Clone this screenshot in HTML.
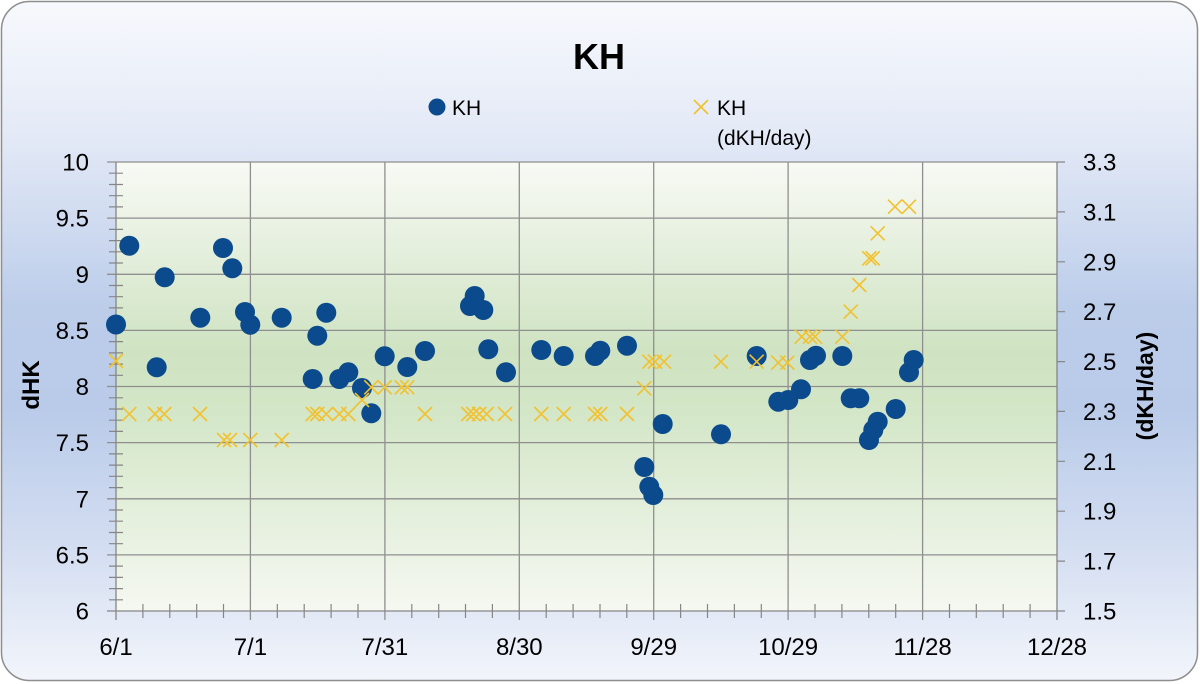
<!DOCTYPE html>
<html>
<head>
<meta charset="utf-8">
<style>
html,body{margin:0;padding:0;background:#fff;}
svg{display:block;}
text{font-family:"Liberation Sans",sans-serif;fill:#000;}
</style>
</head>
<body>
<svg width="1200" height="684" viewBox="0 0 1200 684" xmlns="http://www.w3.org/2000/svg">
<defs>
<linearGradient id="bg" x1="0" y1="0" x2="0" y2="1">
<stop offset="0" stop-color="#f7f9fd"/>
<stop offset="0.2" stop-color="#e3e9f6"/>
<stop offset="0.45" stop-color="#bccdea"/>
<stop offset="0.6" stop-color="#b9cbe9"/>
<stop offset="0.8" stop-color="#d3ddf1"/>
<stop offset="1" stop-color="#f2f5fb"/>
</linearGradient>
<linearGradient id="pl" x1="0" y1="0" x2="0" y2="1">
<stop offset="0" stop-color="#f8faf5"/>
<stop offset="0.42" stop-color="#cfe3c2"/>
<stop offset="0.55" stop-color="#d3e6c7"/>
<stop offset="1" stop-color="#f5f8f1"/>
</linearGradient>
</defs>

<rect x="1.5" y="1.5" width="1196" height="679" rx="28" ry="28" fill="url(#bg)" stroke="#8e8e8e" stroke-width="1.5"/>
<rect x="116" y="162" width="941" height="449" fill="url(#pl)"/>

<path stroke="#8f8f8f" stroke-width="1.3" fill="none" d="M107,162H1057M107,218.1H1057M107,274.3H1057M107,330.4H1057M107,386.5H1057M107,442.6H1057M107,498.8H1057M107,554.9H1057M250.4,162V620M384.9,162V620M519.3,162V620M653.7,162V620M788.1,162V620M922.6,162V620"/>

<path stroke="#868686" stroke-width="1.3" fill="none" d="M116,162V620M107,611H1057M1057,162V620M116,611V620M1057,611V620"/>

<path stroke="#868686" stroke-width="1.2" fill="none" d="M109,173.2h14M109,184.5h14M109,195.7h14M109,206.9h14M109,229.4h14M109,240.6h14M109,251.8h14M109,263h14M109,285.5h14M109,296.7h14M109,307.9h14M109,319.2h14M109,341.6h14M109,352.9h14M109,364.1h14M109,375.3h14M109,397.8h14M109,409h14M109,420.2h14M109,431.4h14M109,453.9h14M109,465.1h14M109,476.3h14M109,487.6h14M109,510h14M109,521.2h14M109,532.5h14M109,543.7h14M109,566.1h14M109,577.4h14M109,588.6h14M109,599.8h14"/>

<path stroke="#868686" stroke-width="1.2" fill="none" d="M142.9,604v14M169.8,604v14M196.7,604v14M223.5,604v14M277.3,604v14M304.2,604v14M331.1,604v14M358,604v14M411.8,604v14M438.7,604v14M465.5,604v14M492.4,604v14M546.2,604v14M573.1,604v14M600,604v14M626.8,604v14M680.6,604v14M707.5,604v14M734.4,604v14M761.3,604v14M815,604v14M841.9,604v14M868.8,604v14M895.7,604v14M949.5,604v14M976.3,604v14M1003.2,604v14M1030.1,604v14"/>

<path stroke="#868686" stroke-width="1.2" fill="none" d="M1057,162h8M1057,211.9h8M1057,261.8h8M1057,311.7h8M1057,361.6h8M1057,411.4h8M1057,461.3h8M1057,511.2h8M1057,561.1h8M1057,611h8"/>

<g font-size="24" text-anchor="end">
<text x="89" y="170.5">10</text>
<text x="89" y="226.6">9.5</text>
<text x="89" y="282.8">9</text>
<text x="89" y="338.9">8.5</text>
<text x="89" y="395">8</text>
<text x="89" y="451.1">7.5</text>
<text x="89" y="507.3">7</text>
<text x="89" y="563.4">6.5</text>
<text x="89" y="619.5">6</text>
</g>

<g font-size="24">
<text x="1083" y="170.5">3.3</text>
<text x="1083" y="220.4">3.1</text>
<text x="1083" y="270.3">2.9</text>
<text x="1083" y="320.2">2.7</text>
<text x="1083" y="370.1">2.5</text>
<text x="1083" y="419.9">2.3</text>
<text x="1083" y="469.8">2.1</text>
<text x="1083" y="519.7">1.9</text>
<text x="1083" y="569.6">1.7</text>
<text x="1083" y="619.5">1.5</text>
</g>

<g font-size="24" text-anchor="middle">
<text x="116" y="655">6/1</text>
<text x="250.4" y="655">7/1</text>
<text x="384.9" y="655">7/31</text>
<text x="519.3" y="655">8/30</text>
<text x="653.7" y="655">9/29</text>
<text x="788.1" y="655">10/29</text>
<text x="922.6" y="655">11/28</text>
<text x="1057" y="655">12/28</text>
</g>

<text font-size="24" font-weight="bold" text-anchor="middle" transform="translate(39,385) rotate(-90)">dHK</text>
<text font-size="23" font-weight="bold" text-anchor="middle" transform="translate(1153,386) rotate(-90)">(dKH/day)</text>

<text x="599" y="69" font-size="36" font-weight="bold" text-anchor="middle">KH</text>

<circle cx="437" cy="107" r="8.5" fill="#0b4a8c"/>
<text x="452" y="115" font-size="21">KH</text>
<path stroke="#f2c12e" stroke-width="1.6" d="M694,100l14,14M694,114l14,-14"/>
<text x="717" y="115" font-size="21">KH</text>
<text x="717" y="145" font-size="21">(dKH/day)</text>

<g fill="#0b4a8c">
<circle cx="116" cy="324.5" r="10"/>
<circle cx="129.3" cy="245.7" r="10"/>
<circle cx="156.7" cy="367.3" r="10"/>
<circle cx="164.7" cy="277.3" r="10"/>
<circle cx="200.3" cy="317.7" r="10"/>
<circle cx="223" cy="248" r="10"/>
<circle cx="232.3" cy="268.3" r="10"/>
<circle cx="245" cy="312" r="10"/>
<circle cx="250.3" cy="324.7" r="10"/>
<circle cx="281.7" cy="317.7" r="10"/>
<circle cx="312.7" cy="379" r="10"/>
<circle cx="317.3" cy="335.7" r="10"/>
<circle cx="326.3" cy="312.7" r="10"/>
<circle cx="339.3" cy="379" r="10"/>
<circle cx="348.3" cy="372.3" r="10"/>
<circle cx="362" cy="388" r="10"/>
<circle cx="371.3" cy="413.3" r="10"/>
<circle cx="384.7" cy="356.3" r="10"/>
<circle cx="407.3" cy="367" r="10"/>
<circle cx="425" cy="351" r="10"/>
<circle cx="470" cy="306" r="10"/>
<circle cx="474.7" cy="296" r="10"/>
<circle cx="483.3" cy="310" r="10"/>
<circle cx="488.3" cy="349.3" r="10"/>
<circle cx="506" cy="372.3" r="10"/>
<circle cx="541.3" cy="350" r="10"/>
<circle cx="563.7" cy="356" r="10"/>
<circle cx="595" cy="356" r="10"/>
<circle cx="600.3" cy="350.7" r="10"/>
<circle cx="627" cy="345.7" r="10"/>
<circle cx="644.3" cy="467" r="10"/>
<circle cx="649.3" cy="486.7" r="10"/>
<circle cx="653.3" cy="495" r="10"/>
<circle cx="662.7" cy="424" r="10"/>
<circle cx="721" cy="434.3" r="10"/>
<circle cx="756.7" cy="356" r="10"/>
<circle cx="778.3" cy="401.7" r="10"/>
<circle cx="788.3" cy="400" r="10"/>
<circle cx="801" cy="389.3" r="10"/>
<circle cx="810" cy="360" r="10"/>
<circle cx="816" cy="355.7" r="10"/>
<circle cx="842.3" cy="356" r="10"/>
<circle cx="850.7" cy="398.3" r="10"/>
<circle cx="859.3" cy="398.3" r="10"/>
<circle cx="869" cy="440" r="10"/>
<circle cx="873.3" cy="430" r="10"/>
<circle cx="877.7" cy="421.7" r="10"/>
<circle cx="895.7" cy="409" r="10"/>
<circle cx="909" cy="372.3" r="10"/>
<circle cx="913.7" cy="360" r="10"/>
</g>

<path stroke="#f2c12e" stroke-width="1.6" fill="none" d="M109,354l14,14m-14,0l14,-14M122.3,407l14,14m-14,0l14,-14M148,407l14,14m-14,0l14,-14M157.3,407l14,14m-14,0l14,-14M193,407l14,14m-14,0l14,-14M217,433l14,14m-14,0l14,-14M223,433l14,14m-14,0l14,-14M243.3,433l14,14m-14,0l14,-14M274.7,433l14,14m-14,0l14,-14M305.7,407l14,14m-14,0l14,-14M310.3,407l14,14m-14,0l14,-14M319.3,407l14,14m-14,0l14,-14M332.3,407l14,14m-14,0l14,-14M341.3,407l14,14m-14,0l14,-14M355,393l14,14m-14,0l14,-14M364.3,380.3l14,14m-14,0l14,-14M377.7,380.3l14,14m-14,0l14,-14M394.7,380.3l14,14m-14,0l14,-14M400.3,380.3l14,14m-14,0l14,-14M418,407l14,14m-14,0l14,-14M461.3,407l14,14m-14,0l14,-14M466.3,407l14,14m-14,0l14,-14M472.3,407l14,14m-14,0l14,-14M479.7,407l14,14m-14,0l14,-14M498,407l14,14m-14,0l14,-14M534.3,407l14,14m-14,0l14,-14M556.7,407l14,14m-14,0l14,-14M588,407l14,14m-14,0l14,-14M593.3,407l14,14m-14,0l14,-14M620,407l14,14m-14,0l14,-14M637.3,381.3l14,14m-14,0l14,-14M642.3,354.7l14,14m-14,0l14,-14M648,354.7l14,14m-14,0l14,-14M657,354.7l14,14m-14,0l14,-14M714,354.7l14,14m-14,0l14,-14M749.7,354.7l14,14m-14,0l14,-14M771.3,355.7l14,14m-14,0l14,-14M780.3,355.7l14,14m-14,0l14,-14M794.7,329.7l14,14m-14,0l14,-14M803,329.7l14,14m-14,0l14,-14M808,329.7l14,14m-14,0l14,-14M835.3,329.7l14,14m-14,0l14,-14M843.7,304.7l14,14m-14,0l14,-14M852.3,278l14,14m-14,0l14,-14M862.3,251.3l14,14m-14,0l14,-14M865.7,251.3l14,14m-14,0l14,-14M870.7,226.3l14,14m-14,0l14,-14M888,199.7l14,14m-14,0l14,-14M902,199.7l14,14m-14,0l14,-14"/>
</svg>
</body>
</html>
